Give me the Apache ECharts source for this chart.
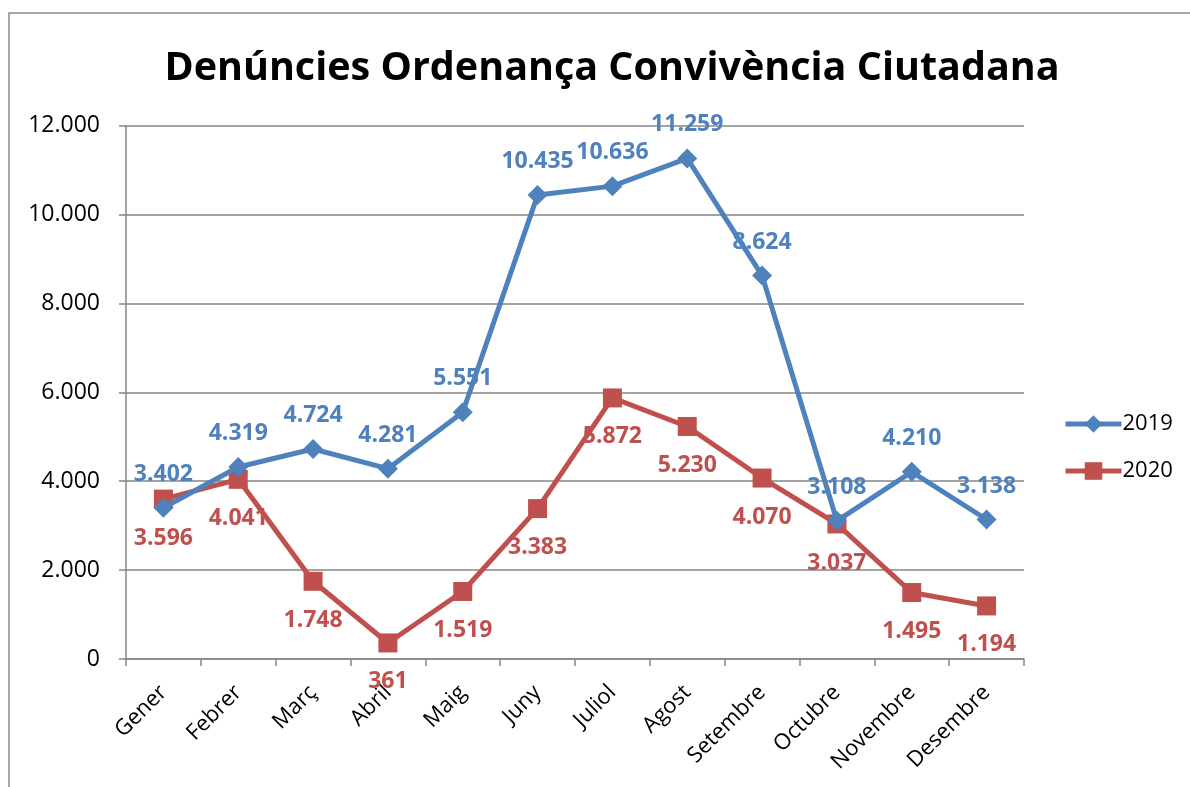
<!DOCTYPE html>
<html>
<head>
<meta charset="utf-8">
<script src="https://cdn.jsdelivr.net/npm/echarts@6/dist/echarts.min.js"></script>
<style>
html,body{margin:0;padding:0;background:#fff;}
#chart{width:1190px;height:787px;}
</style>
</head>
<body>
<div id="chart"></div>
<script>
const titleText = 'Denúncies Ordenança Convivència Ciutadana';
const categories = ['Gener','Febrer','Març','Abril','Maig','Juny','Juliol','Agost','Setembre','Octubre','Novembre','Desembre'];
const seriesNames = ['2019','2020'];
const values2019 = [3402,4319,4724,4281,5551,10435,10636,11259,8624,3108,4210,3138];
const values2020 = [3596,4041,1748,361,1519,3383,5872,5230,4070,3037,1495,1194];

const FONT = '"Open Sans", sans-serif';
function fmt(v){
  return String(v).replace(/\B(?=(\d{3})+(?!\d))/g, '.');
}
const chart = echarts.init(document.getElementById('chart'), null, {renderer:'canvas'});
chart.setOption({
  animation:false,
  backgroundColor:'#ffffff',
  title:{
    text:titleText,
    left:607, top:44, textAlign:'center',
    textStyle:{fontFamily:FONT,fontWeight:'bold',fontSize:39.5,color:'#000'}
  },
  graphic:[{
    type:'rect',
    shape:{x:9,y:13,width:1300,height:900},
    style:{fill:'none',stroke:'#8c8c8c',lineWidth:1.5},
    silent:true
  }],
  legend:{
    orient:'vertical',
    left:1058, top:408, padding:5,
    itemWidth:56, itemHeight:22, itemGap:25,
    lineStyle:{width:5},
    textStyle:{fontFamily:FONT,fontSize:22,color:'#000',padding:[0,0,0,-4]},
    data:seriesNames
  },
  grid:{left:126,right:166,top:125.5,bottom:128,containLabel:false},
  xAxis:{
    type:'category',
    data:categories,
    boundaryGap:true,
    axisLine:{lineStyle:{color:'#868686',width:1.5}},
    axisTick:{show:true,length:7,interval:0,lineStyle:{color:'#868686',width:1.5}},
    axisLabel:{interval:0,rotate:45,fontFamily:FONT,fontSize:22,color:'#000',margin:30}
  },
  yAxis:{
    type:'value',
    min:0,max:12000,interval:2000,
    axisLine:{show:true,lineStyle:{color:'#868686',width:1.5}},
    axisTick:{show:true,length:7,lineStyle:{color:'#868686',width:1.5}},
    splitLine:{show:true,lineStyle:{color:'#868686',width:1.5}},
    axisLabel:{fontFamily:FONT,fontSize:23,color:'#000',margin:26,formatter:fmt}
  },
  series:[
    {
      name:seriesNames[0],type:'line',data:values2019,
      color:'#4F81BD',
      symbol:'diamond',symbolSize:20,
      lineStyle:{width:5,color:'#4F81BD'},
      itemStyle:{color:'#4F81BD'},
      label:{show:true,position:'top',distance:12,fontFamily:FONT,fontWeight:'bold',fontSize:23,color:'#4F81BD',
        formatter:p=>fmt(p.value)},
      z:3
    },
    {
      name:seriesNames[1],type:'line',data:values2020,
      color:'#C0504D',
      symbol:'rect',symbolSize:19,
      lineStyle:{width:5,color:'#C0504D'},
      itemStyle:{color:'#C0504D'},
      label:{show:true,position:'bottom',distance:18,fontFamily:FONT,fontWeight:'bold',fontSize:23,color:'#C0504D',
        formatter:p=>fmt(p.value)},
      z:2
    }
  ]
});
</script>
</body>
</html>
